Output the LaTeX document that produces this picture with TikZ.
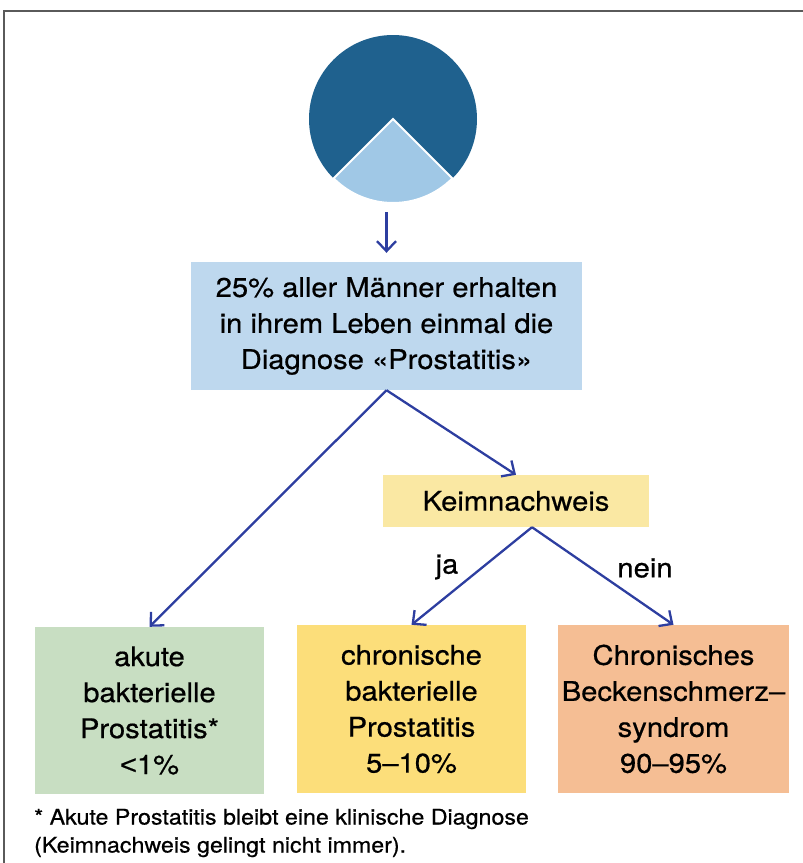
\documentclass[tikz,border=0pt]{standalone}
\usepackage{fontspec}
\setmainfont[FakeStretch=1.08,FakeBold=0.6]{TeX Gyre Heros}
\newfontfamily\ltfont[FakeStretch=1.08,FakeBold=0.6]{Liberation Sans}
\usetikzlibrary{arrows.meta}
\definecolor{arrowblue}{RGB}{45,62,160}
\definecolor{boxblue}{RGB}{190,216,238}
\definecolor{keimyellow}{RGB}{250,232,163}
\definecolor{boxyellow}{RGB}{252,222,122}
\definecolor{boxgreen}{RGB}{200,222,194}
\definecolor{boxorange}{RGB}{245,190,148}
\definecolor{piedark}{RGB}{31,97,142}
\definecolor{pielight}{RGB}{160,200,230}
\definecolor{framegray}{RGB}{90,90,90}
\tikzset{
  box/.style={inner sep=0pt, align=center, font=\fontsize{27}{36}\selectfont},
  arr/.style={draw=arrowblue, line width=2.3pt, -{Straight Barb[length=10pt,width=19pt,line width=2.3pt]}},
  lbl/.style={font=\fontsize{27}{32}\selectfont, inner sep=0pt},
}
\begin{document}
\begin{tikzpicture}[x=1pt,y=-1pt]
\useasboundingbox (0,0) rectangle (803,863);
\draw[framegray, line width=2pt] (803,11) -- (4,11) -- (4,863);

% pie
\node[circle, fill=piedark, minimum size=168pt, inner sep=0pt] (pie) at (393,119) {};
\fill[pielight, draw=white, line width=2pt, line join=miter] (pie.center) -- ++(-135:84pt) arc[start angle=-135, end angle=-45, radius=84pt] -- cycle;

% boxes
\node[box, fill=boxblue, minimum width=391pt, minimum height=128pt] (main) at (386.5,326)
  {25\% aller Männer erhalten\\in ihrem Leben einmal die\\Diagnose «Prostatitis»};
\node[box, fill=keimyellow, minimum width=266pt, minimum height=52pt] (keim) at (516,501) {Keimnachweis};
\node[box, fill=boxgreen, minimum width=229pt, minimum height=167pt] (akut) at (149.5,710.5)
  {akute\\bakterielle\\Prostatitis*\\{\ltfont <}1\%};
\node[box, fill=boxyellow, minimum width=229pt, minimum height=168pt] (chron) at (411.5,709)
  {chronische\\bakterielle\\Prostatitis\\5–10\%};
\node[box, fill=boxorange, minimum width=231pt, minimum height=168pt] (becken) at (673.5,709)
  {Chronisches\\Beckenschmerz–\\syndrom\\90–95\%};

% labels
\node[lbl] (ja) at (447,567) {ja};
\node[lbl] (nein) at (645,568) {nein};

% footnote
\node[anchor=west, align=left, inner sep=0pt, font=\fontsize{21.5}{28}\selectfont] (foot) at (34,833)
  {* Akute Prostatitis bleibt eine klinische Diagnose\\(Keimnachweis gelingt nicht immer).};

% arrows
\draw[arr] ([yshift=-9pt]main.north |- pie.south) -- ([yshift=9pt]main.north);
\draw[arr] (main.south) -- (akut.north);
\draw[arr] (main.south) -- (keim.north);
\draw[arr] ([xshift=16pt]keim.south) -- (chron.north);
\draw[arr] ([xshift=16pt]keim.south) -- (becken.north);
\end{tikzpicture}
\end{document}
